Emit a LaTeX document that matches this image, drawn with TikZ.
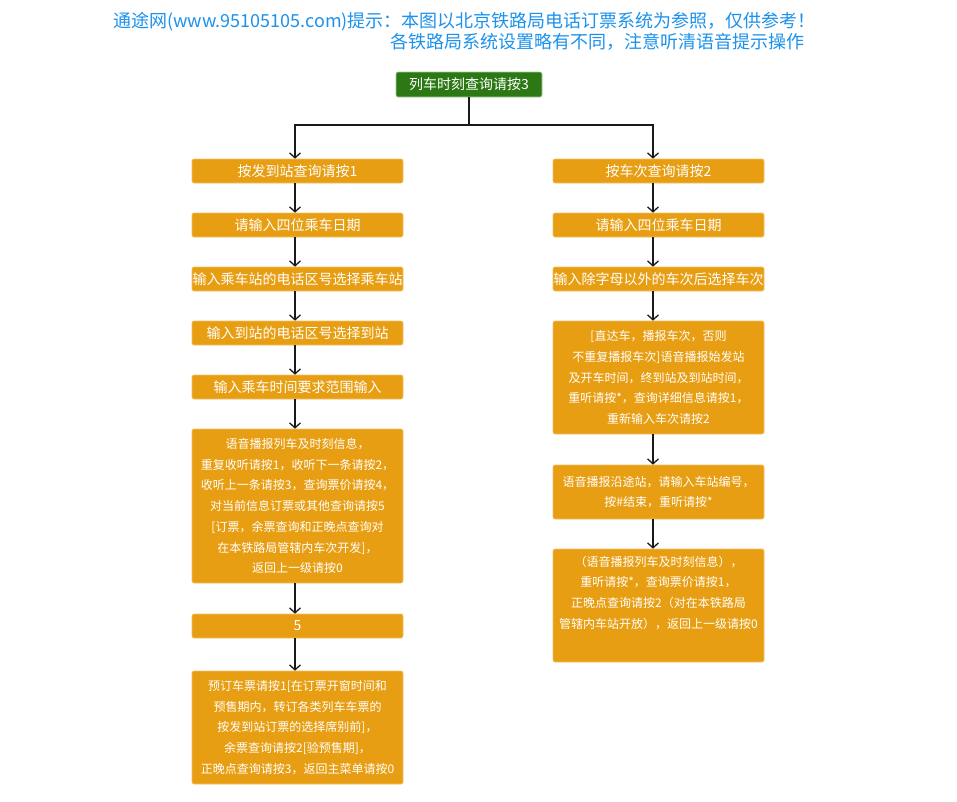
\documentclass[tikz,border=0pt]{standalone}
\usepackage{fontspec}
\setmainfont{Noto Sans CJK SC}
\usetikzlibrary{arrows.meta}
\definecolor{boxor}{RGB}{232,158,18}
\definecolor{boxbd}{RGB}{242,192,96}
\definecolor{topgr}{RGB}{43,120,20}
\definecolor{topbd}{RGB}{170,205,150}
\definecolor{hdr}{RGB}{28,146,236}
\definecolor{lnk}{RGB}{26,26,26}
\begin{document}
\begin{tikzpicture}[x=1pt,y=-1pt,
  obox/.style={draw=boxbd, line width=0.6pt, fill=boxor, rounded corners=2pt, text=white,
    inner sep=0pt, minimum width=211pt, minimum height=24pt, align=center,
    font=\fontsize{14}{16}\selectfont},
  mbox/.style={obox, font=\fontsize{12}{20.7}\selectfont},
  gbox/.style={obox, draw=topbd, fill=topgr, minimum width=146pt, minimum height=25pt},
  hdrtext/.style={anchor=west, inner sep=0pt, text=hdr, font=\fontsize{18}{20}\selectfont},
  arr/.style={draw=lnk, line width=2pt, -{Straight Barb[length=5pt,width=11pt,line width=1.3pt]}}
]
\useasboundingbox (0,0) rectangle (957,801);
\fill[white] (0,0) rectangle (957,801);

% header
\node[hdrtext] (h1) at (113,22) {通途网(www.95105105.com)提示：本图以北京铁路局电话订票系统为参照，仅供参考！};
\node[hdrtext] (h2) at (390,42) {各铁路局系统设置略有不同，注意听清语音提示操作};

% top
\node[gbox] (T) at (469,84.5) {列车时刻查询请按3};

% left column
\node[obox] (L1) at (297.5,171) {按发到站查询请按1};
\node[obox] (L2) at (297.5,225) {请输入四位乘车日期};
\node[obox] (L3) at (297.5,279) {输入乘车站的电话区号选择乘车站};
\node[obox] (L4) at (297.5,333) {输入到站的电话区号选择到站};
\node[obox] (L5) at (297.5,387) {输入乘车时间要求范围输入};
\node[mbox, minimum height=154pt] (L6) at (297.5,506) {语音播报列车及时刻信息，\\重复收听请按1，收听下一条请按2，\\收听上一条请按3，查询票价请按4，\\对当前信息订票或其他查询请按5\\{}[订票，余票查询和正晚点查询对\\在本铁路局管辖内车次开发]，\\返回上一级请按0};
\node[obox] (L7) at (297.5,626) {5};
\node[mbox, minimum height=113pt] (L8) at (297.5,727.5) {预订车票请按1[在订票开窗时间和\\预售期内，转订各类列车车票的\\按发到站订票的选择席别前]，\\余票查询请按2[验预售期]，\\正晚点查询请按3，返回主菜单请按0};

% right column
\node[obox] (R1) at (658.5,171) {按车次查询请按2};
\node[obox] (R2) at (658.5,225) {请输入四位乘车日期};
\node[obox] (R3) at (658.5,279) {输入除字母以外的车次后选择车次};
\node[mbox, minimum height=113pt] (R4) at (658.5,377.5) {[直达车，播报车次，否则\\不重复播报车次]语音播报始发站\\及开车时间，终到站及到站时间，\\重听请按*，查询详细信息请按1，\\重新输入车次请按2};
\node[mbox, minimum height=54pt] (R5) at (658.5,492) {语音播报沿途站，请输入车站编号，\\按\#结束，重听请按*};
\node[mbox, minimum height=113pt] (R6) at (658.5,605.5) {（语音播报列车及时刻信息），\\重听请按*，查询票价请按1，\\正晚点查询请按2（对在本铁路局\\管辖内车站开放），返回上一级请按0\\\strut};

% connectors
\coordinate (jl) at (295,125);
\coordinate (jr) at (653,125);
\draw[arr] (T.south) |- (jl) -- (jl |- L1.north);
\draw[arr] (T.south) |- (jr) -- (jr |- R1.north);

\draw[arr] (jl |- L1.south) -- (jl |- L2.north);
\draw[arr] (jl |- L2.south) -- (jl |- L3.north);
\draw[arr] (jl |- L3.south) -- (jl |- L4.north);
\draw[arr] (jl |- L4.south) -- (jl |- L5.north);
\draw[arr] (jl |- L5.south) -- (jl |- L6.north);
\draw[arr] (jl |- L6.south) -- (jl |- L7.north);
\draw[arr] (jl |- L7.south) -- (jl |- L8.north);

\draw[arr] (jr |- R1.south) -- (jr |- R2.north);
\draw[arr] (jr |- R2.south) -- (jr |- R3.north);
\draw[arr] (jr |- R3.south) -- (jr |- R4.north);
\draw[arr] (jr |- R4.south) -- (jr |- R5.north);
\draw[arr] (jr |- R5.south) -- (jr |- R6.north);
\end{tikzpicture}
\end{document}
